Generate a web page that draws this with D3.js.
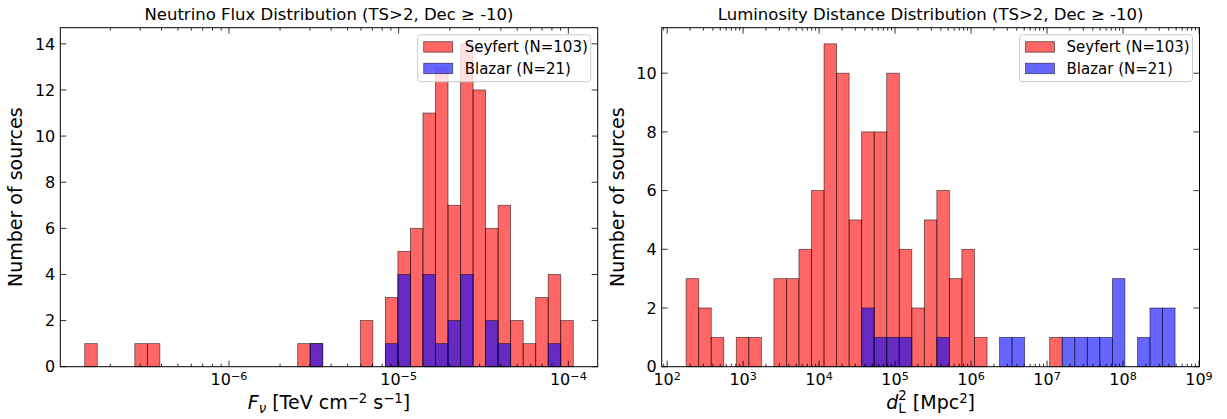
<!DOCTYPE html>
<html>
<head>
<meta charset="utf-8">
<script src="https://cdn.jsdelivr.net/npm/d3@7"></script>
<style>
  body { margin: 0; background: #fff; }
  text { font-family: "DejaVu Sans", sans-serif; fill: #000; }
</style>
</head>
<body>
<svg id="chart" width="1227" height="419"></svg>
<script>
// log10 range covered by the 39 histogram bins of each panel
const fluxLogRange = [-6.850, -3.971];
const distLogRange = [2.25, 8.685];

// counts per bin (39 bins each)
const fluxSeyfert = [1,0,0,0,1,1,0,0,0,0,0,0,0,0,0,0,0,1,1,0,0,0,2,0,3,5,6,11,13,7,14,12,6,7,2,1,3,4,2];
const fluxBlazar  = [0,0,0,0,0,0,0,0,0,0,0,0,0,0,0,0,0,0,1,0,0,0,0,0,1,4,0,4,1,2,4,0,2,1,0,0,0,1,0];
const distSeyfert = [3,2,1,0,1,1,0,3,3,4,6,11,10,5,8,8,10,4,2,5,6,3,4,1,0,0,0,0,0,1,0,0,0,0,0,0,0,0,0];
const distBlazar  = [0,0,0,0,0,0,0,0,0,0,0,0,0,0,2,1,1,1,0,0,1,0,0,0,0,1,1,0,0,0,1,1,1,1,3,0,1,2,2];

const fluxYTicks = [0, 2, 4, 6, 8, 10, 12, 14];
const distYTicks = [0, 2, 4, 6, 8, 10];
const fluxXExps = [-6, -5, -4];
const distXExps = [2, 3, 4, 5, 6, 7, 8, 9];

const seriesNames = ["Seyfert (N=103)", "Blazar (N=21)"];
const seriesColors = ["#ff0000", "#0000ff"];

const svg = d3.select("#chart");

function supLabel(sel, base, sup) {
  sel.append("tspan").text(base);
  sel.append("tspan").attr("font-size", "0.7em").attr("dy", "-0.45em").text(sup);
}

function drawPanel(cfg) {
  const { left, right, top, bottom } = cfg;
  const g = svg.append("g");

  const [lo, hi] = cfg.logRange;
  const pad = (hi - lo) * 0.05;
  const nBins = cfg.series[0].length;
  const edges = d3.range(nBins + 1).map(i => Math.pow(10, lo + i * (hi - lo) / nBins));

  const x = d3.scaleLog()
    .domain([Math.pow(10, lo - pad), Math.pow(10, hi + pad)])
    .range([left, right]);

  const maxCount = d3.max(cfg.series.flat());
  const y = d3.scaleLinear()
    .domain([0, maxCount * 1.05])
    .range([bottom, top]);

  // bars: Seyfert first, Blazar on top
  cfg.series.forEach((counts, s) => {
    g.append("g").selectAll("rect")
      .data(counts.map((c, i) => ({ c, i })).filter(d => d.c > 0))
      .join("rect")
      .attr("x", d => x(edges[d.i]))
      .attr("width", d => x(edges[d.i + 1]) - x(edges[d.i]))
      .attr("y", d => y(d.c))
      .attr("height", d => y(0) - y(d.c))
      .attr("fill", seriesColors[s])
      .attr("fill-opacity", 0.6)
      .attr("stroke", "#000")
      .attr("stroke-opacity", 0.6)
      .attr("stroke-width", 0.8);
  });

  // ticks (inward, all four sides)
  const ticks = g.append("g").attr("stroke", "#000").attr("stroke-width", 0.8);
  const [d0, d1] = x.domain();
  const majors = [];
  const minors = [];
  for (let e = Math.floor(Math.log10(d0)); e <= Math.ceil(Math.log10(d1)); e++) {
    for (let m = 1; m <= 9; m++) {
      const v = m * Math.pow(10, e);
      if (v < d0 * 0.9999 || v > d1 * 1.0001) continue;
      (m === 1 ? majors : minors).push(v);
    }
  }
  majors.forEach(v => {
    ticks.append("line").attr("x1", x(v)).attr("x2", x(v)).attr("y1", bottom).attr("y2", bottom - 6);
    ticks.append("line").attr("x1", x(v)).attr("x2", x(v)).attr("y1", top).attr("y2", top + 6);
  });
  minors.forEach(v => {
    ticks.append("line").attr("x1", x(v)).attr("x2", x(v)).attr("y1", bottom).attr("y2", bottom - 3);
    ticks.append("line").attr("x1", x(v)).attr("x2", x(v)).attr("y1", top).attr("y2", top + 3);
  });
  cfg.yTicks.forEach(v => {
    ticks.append("line").attr("x1", left).attr("x2", left + 6).attr("y1", y(v)).attr("y2", y(v));
    ticks.append("line").attr("x1", right).attr("x2", right - 6).attr("y1", y(v)).attr("y2", y(v));
  });

  // frame
  g.append("rect")
    .attr("x", left).attr("y", top)
    .attr("width", right - left).attr("height", bottom - top)
    .attr("fill", "none").attr("stroke", "#000").attr("stroke-width", 1);

  // tick labels
  cfg.xExps.forEach(e => {
    const t = g.append("text")
      .attr("x", x(Math.pow(10, e)))
      .attr("y", bottom + 18)
      .attr("text-anchor", "middle")
      .attr("font-size", 16);
    supLabel(t, "10", String(e).replace("-", "\u2212"));
  });
  cfg.yTicks.forEach(v => {
    g.append("text")
      .attr("x", left - 5)
      .attr("y", y(v))
      .attr("dy", "0.36em")
      .attr("text-anchor", "end")
      .attr("font-size", 16)
      .text(v);
  });

  // title
  g.append("text")
    .attr("x", (left + right) / 2)
    .attr("y", top - 8)
    .attr("text-anchor", "middle")
    .attr("font-size", 16.5)
    .text(cfg.title);

  // axis labels
  g.append("text")
    .attr("transform", `translate(${left - 38},${(top + bottom) / 2}) rotate(-90)`)
    .attr("text-anchor", "middle")
    .attr("font-size", 19)
    .text("Number of sources");

  const xl = g.append("text")
    .attr("x", (left + right) / 2)
    .attr("y", bottom + 42)
    .attr("text-anchor", "middle")
    .attr("font-size", 19);
  cfg.xLabel(xl);

  // legend
  const lg = g.append("g").attr("transform", `translate(${right - 180},${top + 7})`);
  lg.append("rect")
    .attr("width", 173).attr("height", 47).attr("rx", 3)
    .attr("fill", "#fff").attr("fill-opacity", 0.8)
    .attr("stroke", "#ccc").attr("stroke-width", 1);
  seriesNames.forEach((name, i) => {
    lg.append("rect")
      .attr("x", 6).attr("y", 7 + i * 21.5)
      .attr("width", 29).attr("height", 10.5)
      .attr("fill", seriesColors[i]).attr("fill-opacity", 0.6)
      .attr("stroke", "#000").attr("stroke-opacity", 0.6).attr("stroke-width", 0.8);
    lg.append("text")
      .attr("x", 47).attr("y", 12.3 + i * 21.5)
      .attr("dy", "0.36em")
      .attr("font-size", 15)
      .text(name);
  });
}

drawPanel({
  left: 60.3, right: 597.7, top: 27.7, bottom: 366.7,
  logRange: fluxLogRange,
  series: [fluxSeyfert, fluxBlazar],
  yTicks: fluxYTicks,
  xExps: fluxXExps,
  title: "Neutrino Flux Distribution (TS>2, Dec \u2265 -10)",
  xLabel: t => {
    t.append("tspan").attr("font-style", "italic").text("F");
    t.append("tspan").attr("font-style", "italic").attr("font-size", "0.7em").attr("dy", "0.3em").text("\u03bd");
    t.append("tspan").attr("dy", "-0.21em").text(" [TeV cm");
    t.append("tspan").attr("font-size", "0.7em").attr("dy", "-0.45em").text("\u22122");
    t.append("tspan").attr("dy", "0.315em").text(" s");
    t.append("tspan").attr("font-size", "0.7em").attr("dy", "-0.45em").text("\u22121");
    t.append("tspan").attr("dy", "0.315em").text("]");
  }
});

drawPanel({
  left: 661.7, right: 1199.5, top: 27.7, bottom: 366.7,
  logRange: distLogRange,
  series: [distSeyfert, distBlazar],
  yTicks: distYTicks,
  xExps: distXExps,
  title: "Luminosity Distance Distribution (TS>2, Dec \u2265 -10)",
  xLabel: t => {
    t.append("tspan").attr("font-style", "italic").text("d");
    t.append("tspan").attr("font-size", "0.7em").attr("dy", "0.3em").text("L");
    t.append("tspan").attr("font-size", "0.7em").attr("dx", "-0.55em").attr("dy", "-0.95em").text("2");
    t.append("tspan").attr("dy", "0.455em").text(" [Mpc");
    t.append("tspan").attr("font-size", "0.7em").attr("dy", "-0.45em").text("2");
    t.append("tspan").attr("dy", "0.315em").text("]");
  }
});
</script>
</body>
</html>
